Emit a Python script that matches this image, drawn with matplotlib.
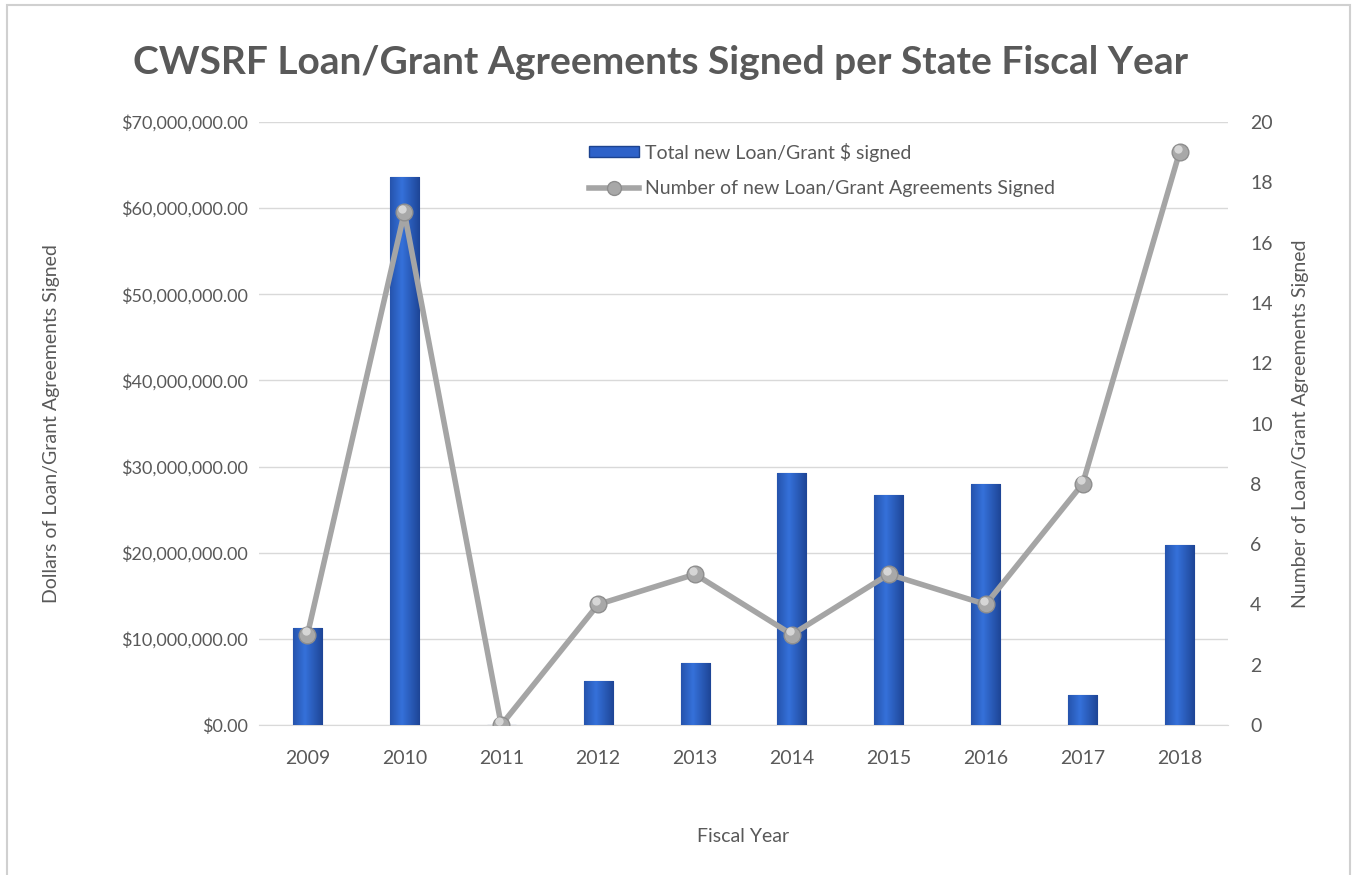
import matplotlib
matplotlib.use("Agg")
import matplotlib.pyplot as plt
import numpy as np
from matplotlib.patches import Rectangle
from matplotlib.lines import Line2D
from matplotlib.ticker import FuncFormatter, MultipleLocator
from matplotlib.colors import LinearSegmentedColormap

years = ["2009", "2010", "2011", "2012", "2013", "2014", "2015", "2016", "2017", "2018"]
dollars = [11300000, 63600000, 0, 5100000, 7200000, 29200000, 26700000, 28000000, 3500000, 20900000]
agreements = [3, 17, 0, 4, 5, 3, 5, 4, 8, 19]

title = "CWSRF Loan/Grant Agreements Signed per State Fiscal Year"
bar_label = "Total new Loan/Grant $ signed"
line_label = "Number of new Loan/Grant Agreements Signed"

plt.rcParams['font.family'] = ['Lato', 'DejaVu Sans']
txt = '#595959'

fig = plt.figure(figsize=(13.57, 8.75), dpi=100)
fig.patches.append(Rectangle((7/1357, -0.01), 1343/1357, 1 - 5/875 + 0.01, transform=fig.transFigure,
                             fill=False, edgecolor='#D0D0D0', linewidth=1.5))

ax = fig.add_axes([259/1357, 1 - 725/875, 969/1357, 603/875])
x = np.arange(len(years))
bars = ax.bar(x, dollars, width=0.3, color='#2E62C9', edgecolor='#1D438F', linewidth=0.8, zorder=3)

grad = np.linspace(0, 1, 64)
shade = 1 - 0.5 * np.abs(grad - 0.4) / 0.6
cmap = LinearSegmentedColormap.from_list('b', ['#1E4596', '#3571DA'])
for b in bars:
    if b.get_height() <= 0:
        continue
    im = ax.imshow(shade[None, :], cmap=cmap, vmin=0.5, vmax=1, aspect='auto',
                   extent=(b.get_x(), b.get_x() + b.get_width(), 0, b.get_height()), zorder=3.5)
    im.set_clip_path(b)

ax.set_xlim(-0.5, len(years) - 0.5)
ax.set_ylim(0, 70000000)
ax.yaxis.set_major_locator(MultipleLocator(10000000))
ax.yaxis.set_major_formatter(FuncFormatter(lambda v, p: "${:,.2f}".format(v)))
ax.set_xticks(x)
ax.set_xticklabels(years)
ax.grid(axis='y', color='#D9D9D9', linewidth=1, zorder=0)
ax.set_axisbelow(True)
for s in ['top', 'right', 'left']:
    ax.spines[s].set_visible(False)
ax.spines['bottom'].set_color('#D9D9D9')
ax.tick_params(axis='both', length=0, labelsize=14, labelcolor=txt)
ax.tick_params(axis='y', pad=8, labelsize=13)
ax.tick_params(axis='x', pad=18)
ax.set_ylabel("Dollars of Loan/Grant Agreements Signed", fontsize=14, color=txt, labelpad=44)
ax.set_xlabel("Fiscal Year", fontsize=14, color=txt, labelpad=44)

ax2 = ax.twinx()
ax2.plot(x, agreements, color='#A5A5A5', linewidth=4, zorder=4, solid_capstyle='round',
         marker='o', markersize=12, markerfacecolor='#A8A8A8', markeredgecolor='#8E8E8E',
         markeredgewidth=1)
ax2.plot(x - 0.02, np.array(agreements) + 0.12, linestyle='none', marker='o', markersize=6,
         markerfacecolor='#E2E2E2', markeredgecolor='none', alpha=0.8, zorder=5)
ax2.set_ylim(0, 20)
ax2.yaxis.set_major_locator(MultipleLocator(2))
for s in ['top', 'right', 'left', 'bottom']:
    ax2.spines[s].set_visible(False)
ax2.tick_params(axis='y', length=0, labelsize=14, labelcolor=txt, pad=16)
ax2.set_ylabel("Number of Loan/Grant Agreements Signed", fontsize=14, color=txt, labelpad=14)

handles = [Rectangle((0, 0), 1, 1, facecolor='#2E62C9', edgecolor='#1D438F'),
           Line2D([], [], color='#A5A5A5', linewidth=4, marker='o', markersize=10,
                  markerfacecolor='#A8A8A8', markeredgecolor='#8E8E8E')]
leg = ax2.legend(handles, [bar_label, line_label], loc='upper left', bbox_to_anchor=(0.322, 0.995),
                 frameon=False, fontsize=14, labelcolor=txt, handlelength=2.6, handleheight=0.55,
                 handletextpad=0.3, labelspacing=0.95)

fig.text(0.487, 1 - 62/875, title, ha='center', va='center', fontsize=28, fontweight='bold', color=txt)

fig.savefig("out.png", dpi=100)
